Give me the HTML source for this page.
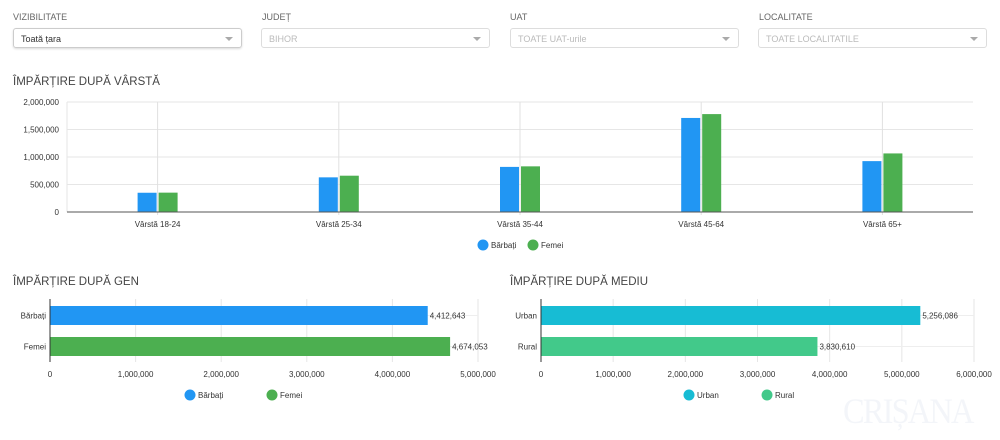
<!DOCTYPE html>
<html><head><meta charset="utf-8">
<style>
body{margin:0;width:1000px;height:440px;background:#fff;font-family:"Liberation Sans",sans-serif;position:relative;overflow:hidden}
.lbl{position:absolute;top:12px;font-size:9px;color:#666}
.dd{position:absolute;top:28px;height:20px;width:226px;border:1px solid #ddd;border-radius:3px;font-size:9px;line-height:20px;padding-left:7px;box-sizing:border-box;color:#bbb}
.dd.on{color:#333;border-color:#ccc;box-shadow:0 1px 2px rgba(0,0,0,.15)}
.dd:after{content:"";position:absolute;right:8px;top:8px;border:4px solid transparent;border-top:4px solid #aaa}
.ttl{position:absolute;font-size:11.5px;color:#444}
svg{position:absolute;left:0;top:0}
.wm{position:absolute;left:843px;top:390px;font-family:"Liberation Serif",serif;font-size:36px;color:#f3f5f9;letter-spacing:-2px;transform:scaleX(0.9);transform-origin:left top}
</style></head><body>
<div class="lbl" style="left:13px">VIZIBILITATE</div>
<div class="dd on" style="left:13px;width:229px">Toată țara</div>
<div class="lbl" style="left:262px">JUDEȚ</div>
<div class="dd" style="left:261px;width:229px">BIHOR</div>
<div class="lbl" style="left:510px">UAT</div>
<div class="dd" style="left:510px;width:229px">TOATE UAT-urile</div>
<div class="lbl" style="left:759px">LOCALITATE</div>
<div class="dd" style="left:758px;width:229px">TOATE LOCALITATILE</div>
<div class="ttl" style="left:13px;top:76px">ÎMPĂRȚIRE DUPĂ VÂRSTĂ</div>
<div class="ttl" style="left:13px;top:276px">ÎMPĂRȚIRE DUPĂ GEN</div>
<div class="ttl" style="left:510px;top:276px">ÎMPĂRȚIRE DUPĂ MEDIU</div>
<div class="wm">CRIȘANA</div>
<svg id="s" width="1000" height="440"></svg>
<script>
const ageCats=["Vârstă 18-24","Vârstă 25-34","Vârstă 35-44","Vârstă 45-64","Vârstă 65+"];
const ageMen=[350000,630000,820000,1710000,925000];
const ageWomen=[352000,660000,830000,1780000,1065000];
const ageTicks=[0,500000,1000000,1500000,2000000];
const genCats=["Bărbați","Femei"];
const genValues=[4412643,4674053];
const genTicks=[0,1000000,2000000,3000000,4000000,5000000];
const medCats=["Urban","Rural"];
const medValues=[5256086,3830610];
const medTicks=[0,1000000,2000000,3000000,4000000,5000000,6000000];

const S=document.getElementById('s');const NS="http://www.w3.org/2000/svg";
function el(t,a,txt){const e=document.createElementNS(NS,t);for(const k in a)e.setAttribute(k,a[k]);if(txt!==undefined)e.textContent=txt;S.appendChild(e);return e;}
const fmt=v=>v.toLocaleString('en-US');
const X0=67,X1=973,Y0=212,Y1=102;
const ay=v=>Y0-(v/2000000)*(Y0-Y1);
const bw=(X1-X0)/ageCats.length;
const ax=i=>X0+bw*(i+0.5);
ageTicks.forEach(t=>{const g=el('line',{x1:X0,x2:X1,y1:ay(t),y2:ay(t),stroke:'#e6e6e6'});
const l=el('text',{x:59,y:ay(t)+3,'font-size':8,'text-anchor':'end',fill:'#333'},fmt(t));});
el('line',{x1:X0,x2:X0,y1:Y1,y2:Y0,stroke:'#e6e6e6'});
ageCats.forEach((c,i)=>{const x=ax(i);
el('line',{x1:x,x2:x,y1:Y1,y2:Y0+3,stroke:'#e0e0e0'});
const b1=el('rect',{x:x-20,y:ay(ageMen[i]),width:19,height:Y0-ay(ageMen[i]),fill:'#2196f3'});
const b2=el('rect',{x:x+1,y:ay(ageWomen[i]),width:19,height:Y0-ay(ageWomen[i]),fill:'#4caf50'});
const t=el('text',{x:x,y:Y0+15,'font-size':8,'text-anchor':'middle',fill:'#333'},c);});
el('line',{x1:X0,x2:X1,y1:Y0,y2:Y0,stroke:'#555'});
function legend(items,y){items.forEach(([x,col,txt])=>{const c=el('circle',{cx:x,cy:y,r:5.5,fill:col});
const t=el('text',{x:x+8,y:y+3,'font-size':8,fill:'#333'},txt);});}
legend([[483,'#2196f3','Bărbați'],[533,'#4caf50','Femei']],245);
function hbar(cats,vals,ticks,x0,x1,cols,pre){
const max=ticks[ticks.length-1];const hx=v=>x0+v/max*(x1-x0);
const rows=[315.5,346.5];
ticks.forEach(t=>{el('line',{x1:hx(t),x2:hx(t),y1:299,y2:362,stroke:'#e6e6e6'});
const l=el('text',{x:hx(t),y:377,'font-size':8,'text-anchor':'middle',fill:'#333'},fmt(t));});
rows.forEach(y=>el('line',{x1:x0,x2:x1,y1:y,y2:y,stroke:'#eee'}));
cats.forEach((c,i)=>{const y=rows[i];
const b=el('rect',{x:x0,y:y-9.5,width:hx(vals[i])-x0,height:19,fill:cols[i]});
const v=el('text',{x:hx(vals[i])+2,y:y+3,'font-size':8,fill:'#333'},fmt(vals[i]));
const l=el('text',{x:x0-4,y:y+3,'font-size':8,'text-anchor':'end',fill:'#333'},c);});
el('line',{x1:x0,x2:x0,y1:299,y2:362,stroke:'#333'});}
hbar(genCats,genValues,genTicks,50,478,['#2196f3','#4caf50'],'gender');
hbar(medCats,medValues,medTicks,541,974,['#17bcd4','#42c98a'],'environment');
legend([[190,'#2196f3','Bărbați'],[272,'#4caf50','Femei']],395);
legend([[689,'#17bcd4','Urban'],[767,'#42c98a','Rural']],395);
</script>
</body></html>
